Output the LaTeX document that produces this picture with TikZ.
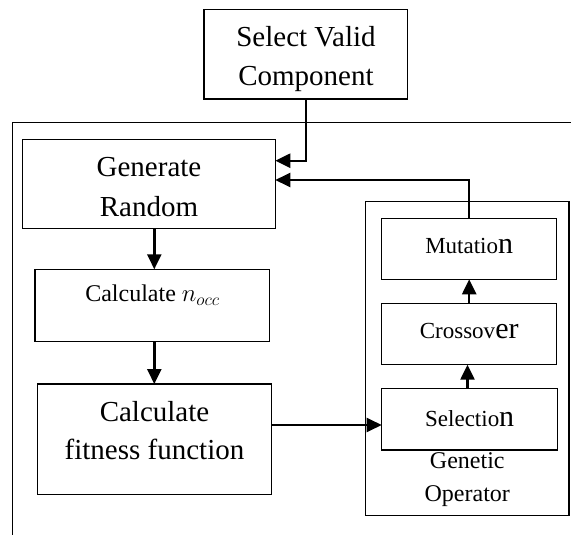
\documentclass[tikz,border=0pt]{standalone}
\usepackage{fontspec}
\setmainfont{Liberation Serif}
\usetikzlibrary{arrows.meta,positioning,calc}

\newcommand{\fs}[2]{\fontsize{#1}{#2}\selectfont}

\tikzset{
  box/.style={draw, line width=1.4pt, inner sep=0pt, outer sep=0pt},
  conn/.style={line width=2.4pt, -{Triangle[length=15pt,width=14pt]}},
  frame/.style={draw, line width=1.4pt},
  lbl/.style={anchor=base, inner sep=0pt},
}

\begin{document}
\begin{tikzpicture}[x=1pt,y=-1pt]
  \useasboundingbox (0,0) rectangle (571,535);
  \clip (0,0) rectangle (571,535);

  % outer frame (open to the right and bottom)
  \draw[frame] (580,122.5) -| (12.3,545);

  % boxes
  \node[box, minimum width=203.7pt, minimum height=89.7pt] (sel)  at (305.9,54.2)  {};
  \node[box, minimum width=252.6pt, minimum height=89pt]   (gen)  at (149,183.8)   {};
  \node[box, minimum width=234.3pt, minimum height=72pt]   (nocc) at (152.2,305.3) {};
  \node[box, minimum width=234.4pt, minimum height=110.3pt] (fit) at (154.5,439.2) {};
  \node[box, minimum width=203.7pt, minimum height=313.8pt] (genop) at (467.2,358.6) {};
  \node[box, minimum width=175pt, minimum height=60.8pt]   (mut)  at (469.2,248.9) {};
  \node[box, minimum width=175pt, minimum height=61.4pt]   (cro)  at (469.2,334)   {};
  \node[box, minimum width=176pt, minimum height=61.7pt]   (slc)  at (469.7,419.2) {};

  % texts
  \node[lbl] (selA) at (306,46.7) {\fs{29}{35}Select Valid};
  \node[lbl] (selB) at (306,85)   {\fs{29}{35}Component};
  \node[lbl] (genA) at (149,176.7) {\fs{29}{35}Generate};
  \node[lbl] (genB) at (149,216)   {\fs{29}{35}Random};
  \node[lbl] (noccA) at (152.5,301.7) {\fs{24}{29}Calculate $n_{\scriptstyle occ}$};
  \node[lbl] (fitA) at (154.5,421.7) {\fs{29}{35}Calculate};
  \node[lbl] (fitB) at (154.5,459)   {\fs{29}{35}fitness function};
  \node[lbl] (mutA) at (469.2,253.3) {\fs{23}{28}Mutatio{\fs{30}{36}n}};
  \node[lbl] (croA) at (469.2,338.3) {\fs{23}{28}Crossov{\fs{30}{36}er}};
  \node[lbl] (slcA) at (469.7,426.7) {\fs{23}{28}Selectio{\fs{30}{36}n}};
  \node[lbl] (gopA) at (467.3,468)   {\fs{24}{29}Genetic};
  \node[lbl] (gopB) at (467.3,501.7) {\fs{24}{29}Operator};

  % helper levels for the connectors
  \coordinate (k1) at (0,160.7);
  \coordinate (k2) at (0,180);
  \coordinate (ax) at (154.3,0);
  \coordinate (ay) at (0,425);
  \coordinate (bx) at (467.5,0);

  % connectors
  \draw[conn] (sel.south) |- (gen.east |- k1);
  \draw[conn] (mut.north) |- (gen.east |- k2);
  \draw[conn] (gen.south -| ax) -- (nocc.north -| ax);
  \draw[conn] (nocc.south -| ax) -- (fit.north -| ax);
  \draw[conn] (fit.east |- ay) -- (slc.west |- ay);
  \draw[conn] (slc.north -| bx) -- (cro.south -| bx);
  \draw[conn] (cro.north) -- (mut.south);
\end{tikzpicture}
\end{document}
